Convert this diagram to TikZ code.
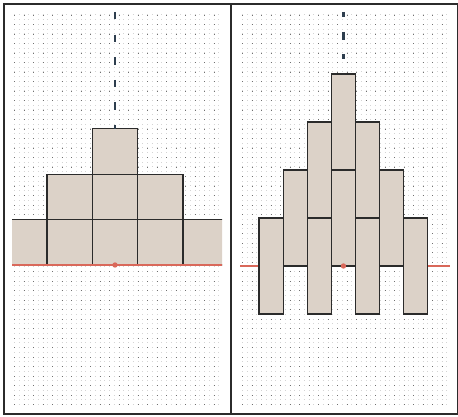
\documentclass[tikz,border=0pt]{standalone}
\usepackage{tikz}
\usepackage{xcolor}

\definecolor{tile}{HTML}{DCD2C8}
\definecolor{edge}{HTML}{2B2B2B}
\definecolor{axis}{HTML}{D9685A}
\definecolor{plumb}{HTML}{2E3E4E}
\definecolor{gridlight}{HTML}{D4D4D4}
\definecolor{griddark}{HTML}{707070}

\begin{document}
\begin{tikzpicture}[x=1pt,y=-1pt]
    \useasboundingbox (0,0) rectangle (458,417);
    % dot paper in both halves
    \foreach \xa/\xb in {14/221, 242/449} {
      \foreach \r in {0,...,82} {
        \draw [gridlight, line width=1pt, dash pattern=on 1pt off 3.75pt] (\xa,15+4.75*\r) -- (\xb,15+4.75*\r);
      }
      \foreach \r in {0,2,...,82} {
        \draw [griddark, line width=0.8pt, dash pattern=on 0.8pt off 8.7pt] (\xa,15+4.75*\r) -- (\xb,15+4.75*\r);
      }
    }
    \draw [edge, line width=1.3pt] (4,4) rectangle (457.5,414);
    \draw [edge, line width=1.3pt] (231,4) -- (231,414);
    \coordinate (O1) at (115,265);
    \coordinate (A1) at (115,128.8);
    \coordinate (T1) at (115,12);
    \coordinate (O2) at (343.45,266);
    \coordinate (A2) at (343.45,74);
    \coordinate (T2) at (343.45,12);
    % left: squares
    \begin{scope}
      \clip (12,4) rectangle (222,414);
      \foreach \c in {-2,...,2}
        \filldraw [fill=tile, draw=edge, line width=1.3pt] (92.3+45.4*\c,219.6) rectangle ++(45.4,45.4);
      \foreach \c in {-1,0,1}
        \filldraw [fill=tile, draw=edge, line width=1.3pt] (92.3+45.4*\c,174.2) rectangle ++(45.4,45.4);
      \filldraw [fill=tile, draw=edge, line width=1.3pt] (92.3,128.8) rectangle ++(45.4,45.4);
    \end{scope}
    \draw [axis, line width=1.2pt] (12,265) -- (222,265);
    \draw [plumb, line width=2.6pt, dash pattern=on 7.5pt off 15.1pt] (T1) -- (A1);
    \fill [axis] (O1) circle (2.7pt);
    % right: dominoes
    \draw [axis, line width=1.2pt] (240,266) -- (450,266);
    \foreach \k/\t in {0/218, 1/170, 2/122, 2/218, 3/74, 3/170, 4/122, 4/218, 5/170, 6/218}
      \filldraw [fill=tile, draw=edge, line width=1.3pt] (259.1+24.1*\k,\t) rectangle ++(24.1,96);
    \draw [plumb, line width=2.6pt, dash pattern=on 5pt off 15pt on 8pt off 14pt] (T2) -- (A2);
    \fill [axis] (O2) circle (2.7pt);
\end{tikzpicture}
\end{document}
